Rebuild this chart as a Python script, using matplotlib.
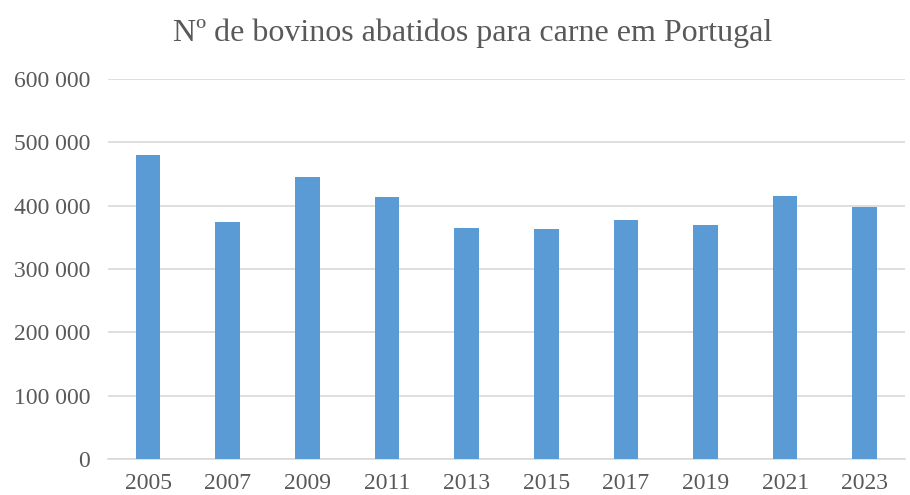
import matplotlib.pyplot as plt
import numpy as np

# data
anos = ['2005', '2007', '2009', '2011', '2013', '2015', '2017', '2019', '2021', '2023']
bovinos = [481000, 375000, 446000, 414500, 365000, 362700, 377000, 369000, 415300, 398400]

plt.rcParams['font.family'] = ['Liberation Serif', 'DejaVu Serif']

fig = plt.figure(figsize=(9.1, 4.95), dpi=100)
ax = fig.add_axes([0.119, 0.073, 0.875, 0.767])

x = np.arange(len(anos))
ax.bar(x, bovinos, width=0.31, color='#5B9BD5', zorder=3)

ax.set_xlim(-0.5, len(anos) - 0.5)
ax.set_ylim(0, 600000)
ax.set_yticks(range(0, 600001, 100000))
ax.set_yticklabels([f'{v:,}'.replace(',', ' ') for v in range(0, 600001, 100000)])
ax.set_xticks(x)
ax.set_xticklabels(anos)

ax.grid(axis='y', color='#D9D9D9', linewidth=1.2, zorder=0)
for s in ['top', 'right', 'left']:
    ax.spines[s].set_visible(False)
ax.spines['bottom'].set_color('#D9D9D9')
ax.spines['bottom'].set_linewidth(1.2)
ax.tick_params(axis='both', length=0, labelsize=17, colors='#595959')
ax.tick_params(axis='y', pad=13)
ax.tick_params(axis='x', pad=10)

fig.text(0.519, 0.932, 'Nº de bovinos abatidos para carne em Portugal',
         ha='center', va='center', fontsize=23, color='#595959')

fig.savefig('out.png', dpi=100)
